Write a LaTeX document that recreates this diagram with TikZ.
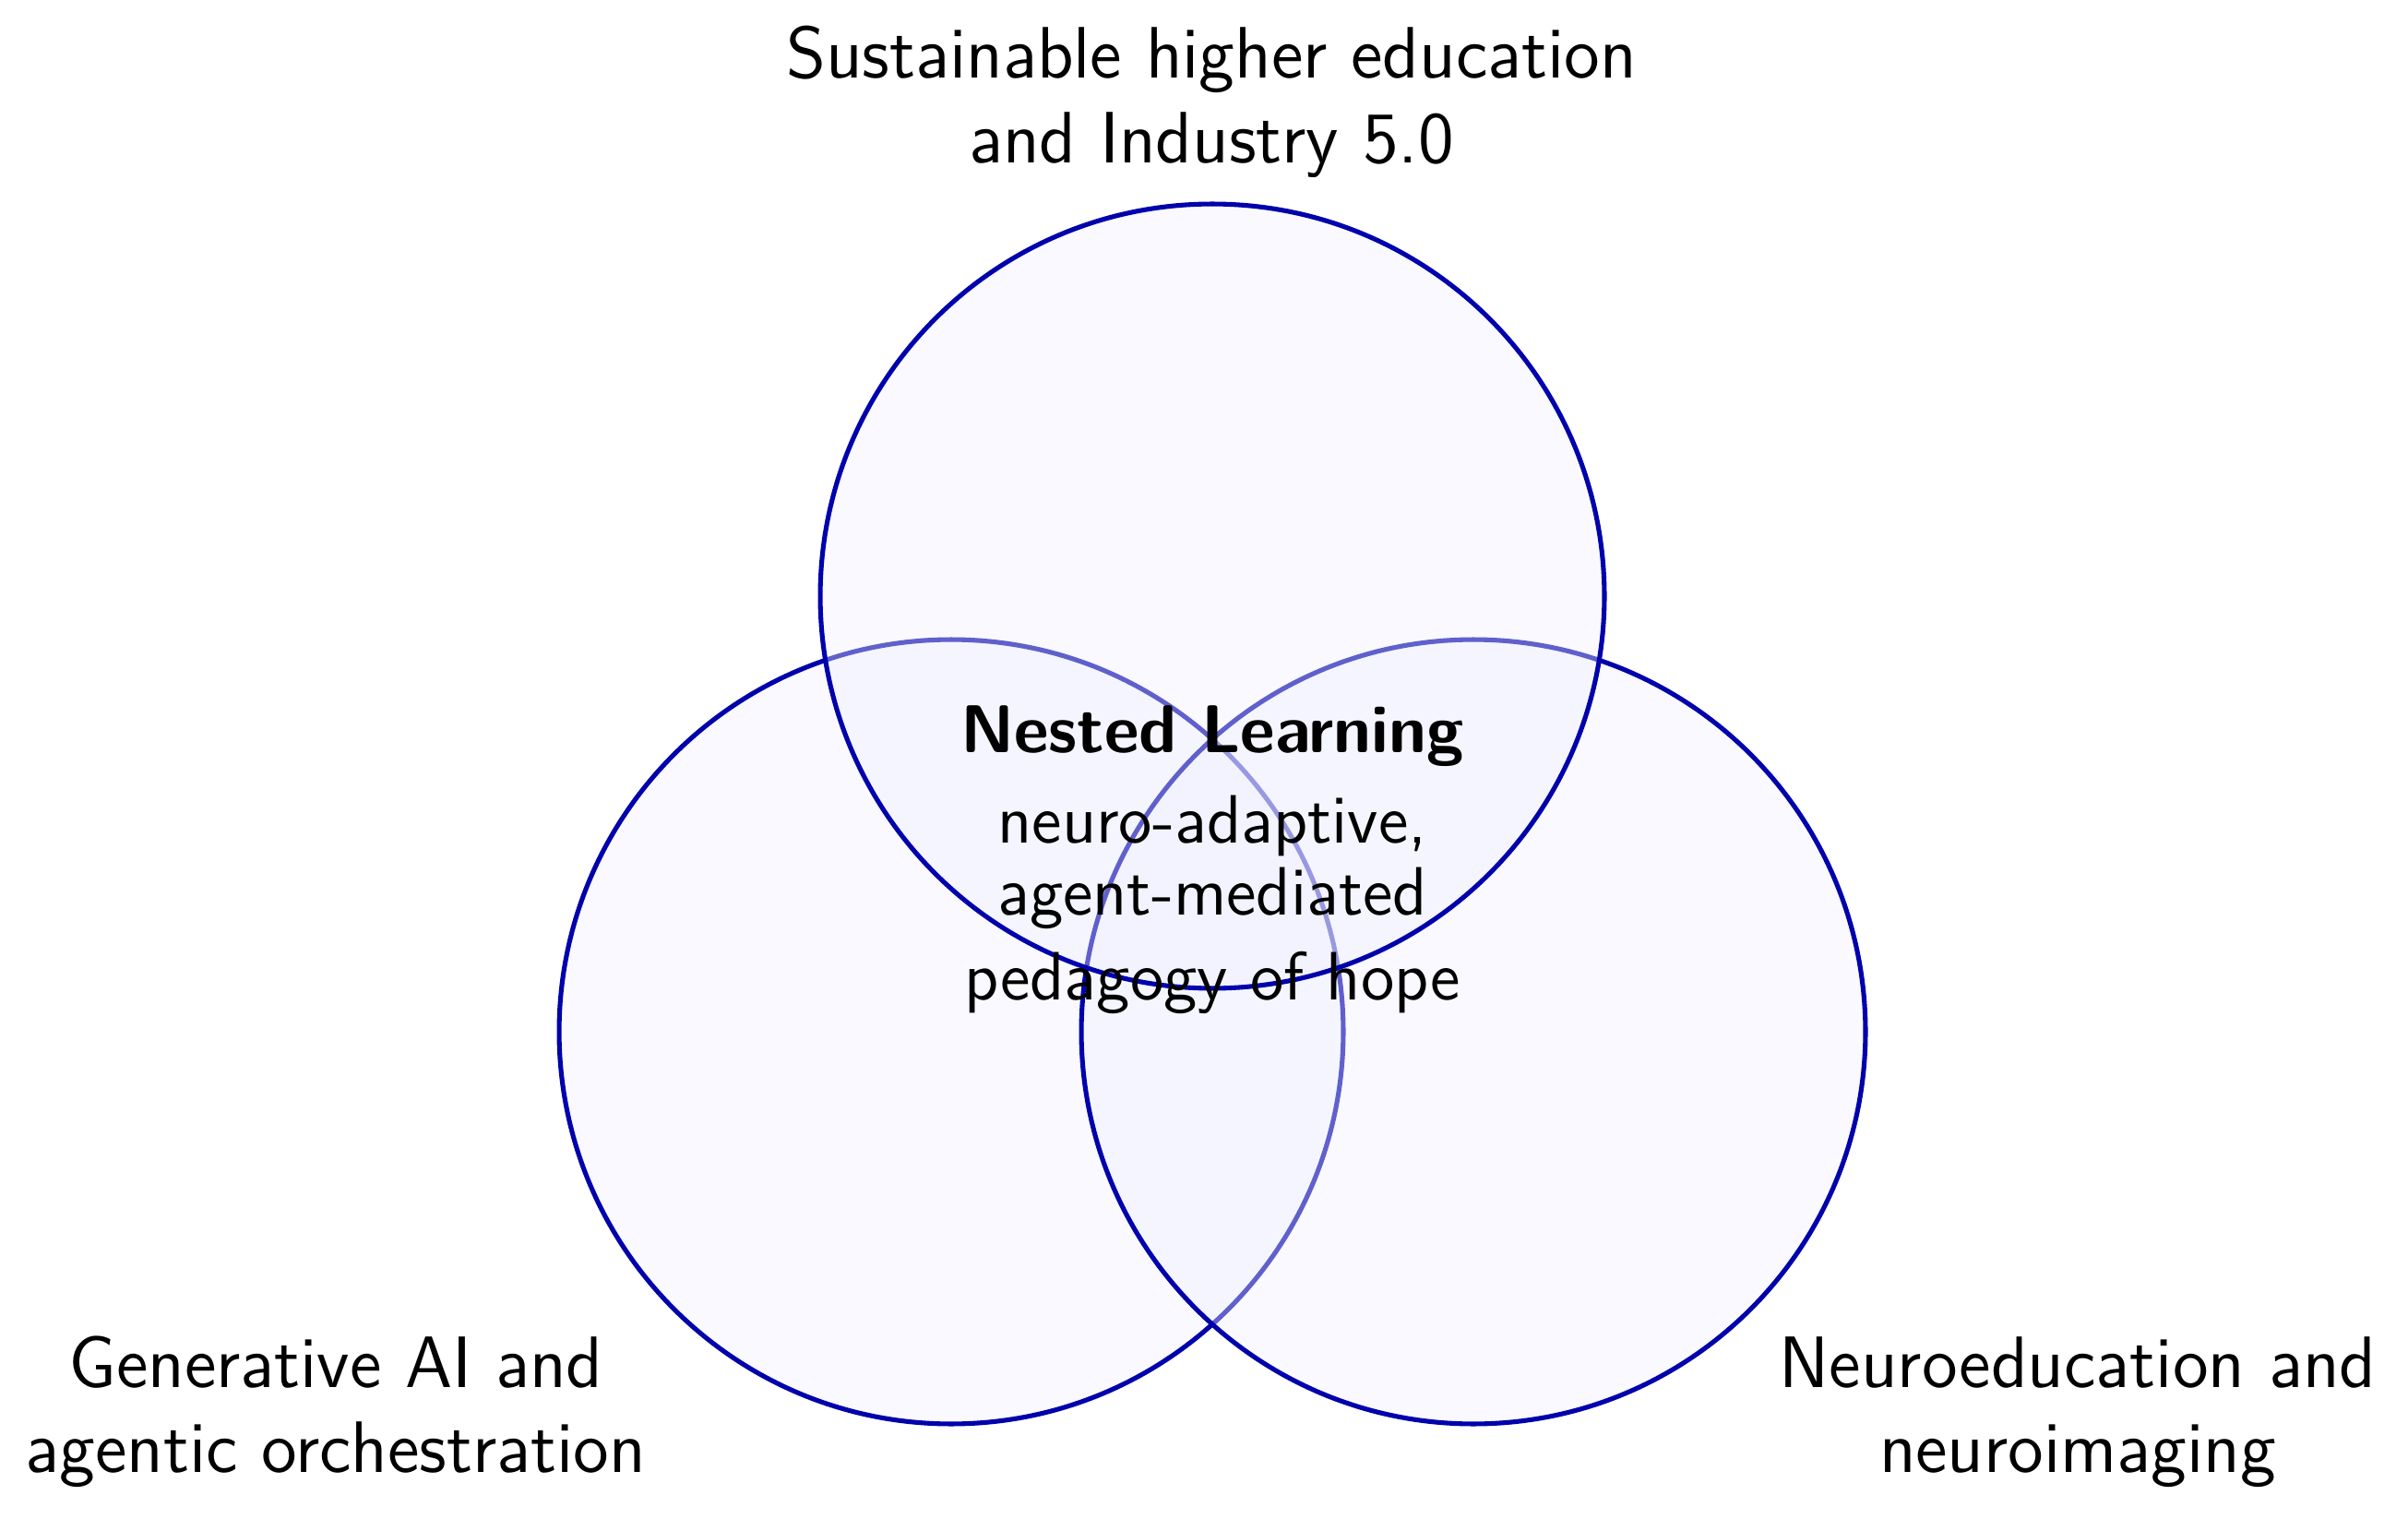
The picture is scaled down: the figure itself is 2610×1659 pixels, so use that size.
\documentclass[tikz,border=0pt]{standalone}
\definecolor{vennline}{RGB}{0,0,172}
\definecolor{vennfill}{RGB}{240,240,255}
\tikzset{
  venn/.style={circle, draw=vennline, line width=0.8pt, fill=vennfill, fill opacity=0.4,
    minimum size=133.5pt, inner sep=0pt, outer sep=0pt},
  lbl/.style={font=\sffamily\fontsize{12.4}{14.45}\selectfont, align=center, inner sep=0pt, anchor=base},
  title/.style={font=\sffamily\bfseries\fontsize{11.5}{14}\selectfont, inner sep=0pt, anchor=base},
  subtxt/.style={font=\sffamily\fontsize{11.65}{12.25}\selectfont, align=center, inner sep=0pt, anchor=base}
}
\begin{document}
\begin{tikzpicture}[x=0.15707pt, y=-0.15707pt]
\useasboundingbox (0,0) rectangle (2610,1659);
\node[venn] (cleft)  at (1031,1118) {};
\node[venn] (cright) at (1597,1118) {};
\node[venn] (ctop)   at (1314,646) {};
\node[lbl] (ltop)   at (1313,177)  {Sustainable higher education\\and Industry 5.0};
\node[lbl] (lleft)  at (364,1595)  {Generative AI and\\agentic orchestration};
\node[lbl] (lright) at (2252,1595) {Neuroeducation and\\neuroimaging};
\node[title] (nl) at (1314,816) {Nested Learning};
\node[subtxt] (sub) at (1314,1083) {neuro-adaptive,\\agent-mediated\\[2.2pt]pedagogy of hope};
\end{tikzpicture}
\end{document}
